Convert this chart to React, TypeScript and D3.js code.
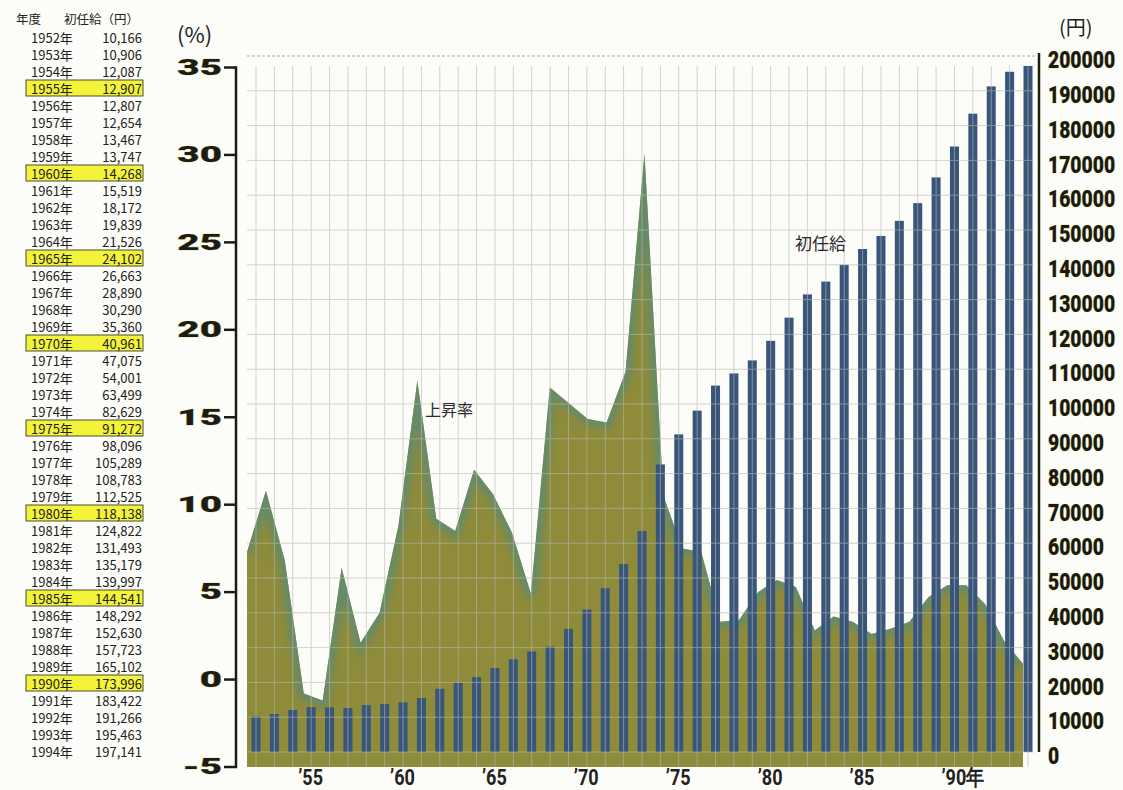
import React from 'react';
import * as d3 from 'd3';

// Fiscal years and starting salaries (円)
const years = [
  1952, 1953, 1954, 1955, 1956, 1957, 1958, 1959, 1960, 1961, 1962, 1963, 1964, 1965,
  1966, 1967, 1968, 1969, 1970, 1971, 1972, 1973, 1974, 1975, 1976, 1977, 1978, 1979,
  1980, 1981, 1982, 1983, 1984, 1985, 1986, 1987, 1988, 1989, 1990, 1991, 1992, 1993, 1994,
];
const salaries = [
  10166, 10906, 12087, 12907, 12807, 12654, 13467, 13747, 14268, 15519, 18172, 19839, 21526, 24102,
  26663, 28890, 30290, 35360, 40961, 47075, 54001, 63499, 82629, 91272, 98096, 105289, 108783, 112525,
  118138, 124822, 131493, 135179, 139997, 144541, 148292, 152630, 157723, 165102, 173996, 183422, 191266, 195463, 197141,
];

// Year-on-year rise (%) from 1953 onward
const rateYears = years.slice(1);
const riseRates = [
  7.3, 10.8, 6.8, -0.8, -1.2, 6.4, 2.1, 3.8, 8.8, 17.1, 9.2, 8.5, 12.0, 10.6,
  8.4, 4.9, 16.7, 15.8, 14.9, 14.7, 17.6, 30.1, 10.5, 7.5, 7.3, 3.3, 3.4, 5.0,
  5.7, 5.3, 2.8, 3.6, 3.3, 2.6, 2.9, 3.3, 4.7, 5.4, 5.4, 4.3, 2.2, 0.9,
];

const xTickYears = [1955, 1960, 1965, 1970, 1975, 1980, 1985, 1990];
const xTickLabels = ['’55', '’60', '’65', '’70', '’75', '’80', '’85', '’90年'];
const highlightYears = [1955, 1960, 1965, 1970, 1975, 1980, 1985, 1990];

const W = 1123;
const H = 790;

const heavy = 'Roboto, "DejaVu Sans", sans-serif';
const jp = '"Noto Sans CJK JP", "Noto Sans", sans-serif';

export default function App() {
  const xBar = d3.scalePoint<number>().domain(years).range([256, 1028]);
  const yR = d3.scaleLinear().domain([0, 200000]).range([752, 56]);
  const xA = d3.scaleLinear().domain([1953, 1994]).range([247, 1023]);
  const yL = d3.scaleLinear().domain([-5, 35]).range([767, 67.5]);

  const rateData = rateYears.map((y, i) => ({ year: y, rate: riseRates[i] }));
  const areaGen = d3
    .area<{ year: number; rate: number }>()
    .x((d) => xA(d.year))
    .y0(yL(-5))
    .y1((d) => yL(d.rate));
  const lineGen = d3
    .line<{ year: number; rate: number }>()
    .x((d) => xA(d.year))
    .y((d) => yL(d.rate));
  const areaPath = areaGen(rateData) || '';
  const topLine = lineGen(rateData) || '';

  const rightTicks = yR.ticks(20);
  const leftTicks = yL.ticks(8);
  const fmt = d3.format(',');
  const barW = 9;

  const rowY = (i: number) => 37 + i * 17.0;

  return (
    <svg
      width={W}
      height={H}
      viewBox={`0 0 ${W} ${H}`}
      style={{ position: 'absolute', left: 0, top: 0, background: '#fcfcf9' }}
    >
      <defs>
        <clipPath id="areaClip">
          <path d={areaPath} />
        </clipPath>
        <filter id="edgeBlur" x="-10%" y="-10%" width="120%" height="120%">
          <feGaussianBlur stdDeviation="3" />
        </filter>
      </defs>
      <rect x={0} y={0} width={W} height={H} fill="#fcfcf9" />

      {/* rise-rate area with a greenish top edge */}
      <path d={areaPath} fill="#8e8b3b" />
      <g clipPath="url(#areaClip)">
        <path d={topLine} fill="none" stroke="#5b8b74" strokeWidth={12} filter="url(#edgeBlur)" opacity={0.8} />
      </g>

      {/* starting-salary bars */}
      {years.map((y, i) => (
        <rect
          key={y}
          x={(xBar(y) as number) - barW / 2}
          y={yR(salaries[i])}
          width={barW}
          height={yR(0) - yR(salaries[i])}
          fill="#38557c"
        />
      ))}

      {/* grid */}
      <g stroke="#b9b9ab" strokeWidth={1} opacity={0.6}>
        {years.map((y) => (
          <line key={y} x1={xBar(y)} x2={xBar(y)} y1={66} y2={767} />
        ))}
        {rightTicks
          .filter((t) => t < 200000)
          .map((t) => (
            <line key={t} x1={247} x2={1034} y1={yR(t)} y2={yR(t)} />
          ))}
      </g>
      <line x1={247} x2={1036} y1={yR(200000)} y2={yR(200000)} stroke="#a9a99c" strokeWidth={1} strokeDasharray="3 2" />

      {/* left axis (%) */}
      <line x1={236} x2={236} y1={yL(35) - 1} y2={yL(-5) + 1} stroke="#1b1b16" strokeWidth={2.5} />
      {leftTicks.map((t) => (
        <g key={t}>
          <line x1={224} x2={237} y1={yL(t)} y2={yL(t)} stroke="#1b1b16" strokeWidth={2.5} />
          <text
            transform={`translate(222,${yL(t)}) scale(1.75,1)`}
            textAnchor="end"
            dominantBaseline="central"
            fontFamily={heavy}
            fontWeight={900}
            fontSize={22}
            fill="#1c1c16"
            stroke="#c9c46a"
            strokeWidth={0.6}
            paintOrder="stroke"
          >
            {t}
          </text>
        </g>
      ))}
      <text x={177} y={43} fontFamily={jp} fontSize={22} fill="#222">
        (%)
      </text>

      {/* right axis (円) */}
      <line x1={1039} x2={1039} y1={53} y2={752} stroke="#1e1e10" strokeWidth={2.5} />
      {rightTicks.map((t) => (
        <text
          key={t}
          transform={`translate(1048,${yR(t) + 4}) scale(0.84,1)`}
          textAnchor="start"
          dominantBaseline="central"
          fontFamily={heavy}
          fontWeight={900}
          fontSize={23}
          fill="#1a1a10"
          stroke="#c9c46a"
          strokeWidth={0.6}
          paintOrder="stroke"
        >
          {t}
        </text>
      ))}
      <text x={1059} y={35} fontFamily={jp} fontSize={20} fill="#222">
        (円)
      </text>

      {/* x axis labels */}
      {xTickYears.map((y, i) => (
        <text
          key={y}
          transform={`translate(${(xBar(y) as number) - 13},785) scale(0.82,1)`}
          textAnchor="start"
          fontFamily={heavy}
          fontWeight={700}
          fontSize={22}
          fill="#222"
        >
          {xTickLabels[i]}
        </text>
      ))}

      {/* series labels */}
      <text x={425} y={416} fontFamily={jp} fontSize={16} fill="#2a2a2a">
        上昇率
      </text>
      <text x={795} y={250} fontFamily={jp} fontSize={17} fill="#2a2a2a">
        初任給
      </text>

      {/* data table */}
      <text x={16} y={18} fontFamily={jp} fontSize={12.5} fill="#222" dominantBaseline="central">
        年度
      </text>
      <text x={64} y={18} fontFamily={jp} fontSize={12.5} fill="#222" dominantBaseline="central">
        初任給（円）
      </text>
      {years.map((y, i) => (
        <g key={y}>
          {highlightYears.includes(y) && (
            <rect x={26} y={rowY(i) - 8} width={117} height={16} fill="#f3f33a" stroke="#3a3a2a" strokeWidth={0.9} />
          )}
          <text x={31} y={rowY(i)} fontFamily={jp} fontSize={13} fill="#222" dominantBaseline="central">
            {`${y}年`}
          </text>
          <text x={142} y={rowY(i)} fontFamily={jp} fontSize={13} fill="#222" textAnchor="end" dominantBaseline="central">
            {fmt(salaries[i])}
          </text>
        </g>
      ))}
    </svg>
  );
}
